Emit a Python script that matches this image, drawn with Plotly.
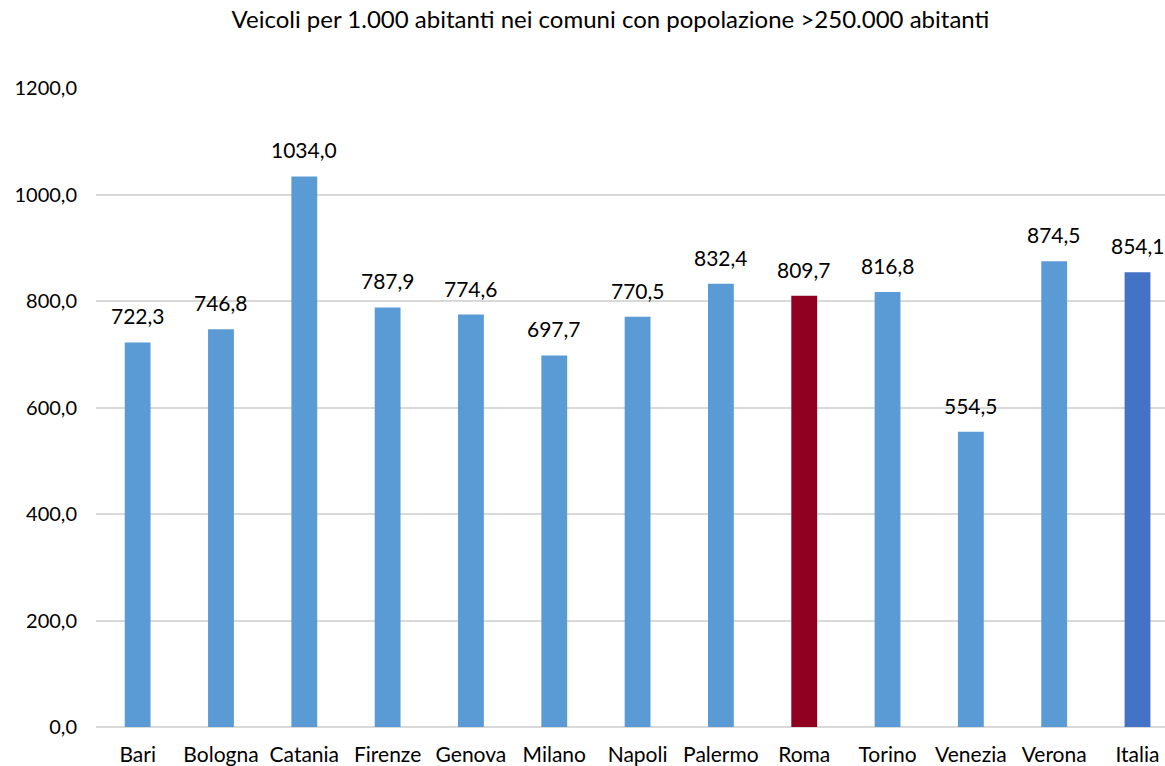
import plotly.graph_objects as go

comuni = ["Bari", "Bologna", "Catania", "Firenze", "Genova", "Milano", "Napoli",
          "Palermo", "Roma", "Torino", "Venezia", "Verona", "Italia"]
veicoli = [722.3, 746.8, 1034.0, 787.9, 774.6, 697.7, 770.5,
           832.4, 809.7, 816.8, 554.5, 874.5, 854.1]

colori = []
for c in comuni:
    if c == "Roma":
        colori.append("#900021")
    elif c == "Italia":
        colori.append("#4472C4")
    else:
        colori.append("#5B9BD5")

FONT = "Lato, Carlito, Calibri, sans-serif"

fig = go.Figure()
fig.add_trace(
    go.Bar(
        x=list(range(len(comuni))),
        y=veicoli,
        marker=dict(color=colori, line=dict(width=0)),
        hoverinfo="skip",
    )
)

# etichette sopra le barre
for i, v in enumerate(veicoli):
    fig.add_annotation(
        x=i, y=v, text=f"{v:.1f}".replace(".", ","),
        showarrow=False, yanchor="bottom", yshift=12,
        font=dict(family=FONT, size=21, color="#000000"),
    )

fig.update_layout(
    title=dict(
        text="Veicoli per 1.000 abitanti nei comuni con popolazione >250.000 abitanti",
        x=0.524, xref="container", xanchor="center",
        y=1 - 20 / 766, yref="container", yanchor="middle",
        font=dict(family=FONT, size=24, color="#000000"),
    ),
    width=1165,
    height=766,
    margin=dict(l=96, r=0, t=88, b=39),
    plot_bgcolor="white",
    paper_bgcolor="white",
    bargap=0.69,
    showlegend=False,
    separators=",.",
    font=dict(family=FONT, size=21, color="#000000"),
    xaxis=dict(
        tickmode="array",
        tickvals=list(range(len(comuni))),
        ticktext=comuni,
        range=[-0.5, 12.33],
        showgrid=False,
        showline=False,
        zeroline=False,
        ticks="",
        ticklabelstandoff=13,
        tickfont=dict(size=21),
    ),
    yaxis=dict(
        range=[0, 1200],
        dtick=200,
        tickformat=".1f",
        showgrid=True,
        gridcolor="#D9D9D9",
        gridwidth=1.5,
        zeroline=True,
        zerolinecolor="#D9D9D9",
        zerolinewidth=1.5,
        showline=False,
        ticks="",
        ticklabelstandoff=18,
        tickfont=dict(size=20),
    ),
)

fig.write_html("out.html", config={"displayModeBar": False},
               post_script="document.body.style.margin='0';")
